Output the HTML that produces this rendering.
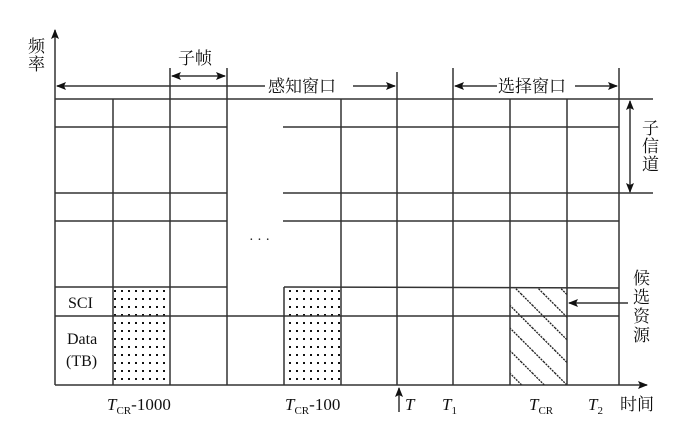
<!DOCTYPE html>
<html><head><meta charset="utf-8"><style>
html,body{margin:0;padding:0;background:#fff;}
svg{display:block;}
text{font-family:"Liberation Serif","Noto Serif CJK SC",serif;fill:#111;}
.cn{font-family:"Liberation Serif","Noto Serif CJK SC",serif;font-size:17px;}
</style></head><body>
<svg width="692" height="443" viewBox="0 0 692 443" xmlns="http://www.w3.org/2000/svg">
<defs>
<pattern id="dots" width="7" height="8" patternUnits="userSpaceOnUse">
<rect x="2" y="2" width="2" height="2" fill="#111"/>
</pattern>
<pattern id="hatch" width="16" height="16" patternUnits="userSpaceOnUse" patternTransform="rotate(-45)">
<line x1="0" y1="0" x2="0" y2="16" stroke="#111" stroke-width="2.5" stroke-dasharray="2 1"/>
</pattern>
<marker id="ah" markerWidth="10" markerHeight="8" refX="9" refY="4" orient="auto" markerUnits="userSpaceOnUse">
<path d="M0,0 L10,4 L0,8 L2,4 Z" fill="#111"/>
</marker>
</defs>
<rect x="113" y="287" width="57" height="98" fill="url(#dots)"/>
<rect x="284" y="287" width="57" height="98" fill="url(#dots)"/>
<rect x="510" y="288" width="57" height="97" fill="url(#hatch)"/>
<g stroke="#333" stroke-width="1.5" fill="none">
<line x1="55" y1="385" x2="55" y2="30" marker-end="url(#ah)"/>
<line x1="55" y1="385" x2="647" y2="385" marker-end="url(#ah)"/>
<line x1="55" y1="99" x2="653" y2="99"/>
<line x1="55" y1="127" x2="227" y2="127"/><line x1="283" y1="127" x2="619" y2="127"/>
<line x1="55" y1="193" x2="227" y2="193"/><line x1="283" y1="193" x2="653" y2="193"/>
<line x1="55" y1="221" x2="227" y2="221"/><line x1="283" y1="221" x2="619" y2="221"/>
<line x1="55" y1="287" x2="227" y2="287"/><line x1="284" y1="287" x2="619" y2="288"/>
<line x1="55" y1="316" x2="619" y2="316"/>
<line x1="113" y1="99" x2="113" y2="385"/>
<line x1="170" y1="68" x2="170" y2="385"/>
<line x1="227" y1="68" x2="227" y2="385"/>
<line x1="284" y1="287" x2="284" y2="385"/>
<line x1="341" y1="99" x2="341" y2="385"/>
<line x1="397" y1="72" x2="397" y2="385"/>
<line x1="453" y1="68" x2="453" y2="385"/>
<line x1="510" y1="99" x2="510" y2="385"/>
<line x1="567" y1="99" x2="567" y2="385"/>
<line x1="619" y1="68" x2="619" y2="385"/>
<line x1="265" y1="86" x2="57" y2="86" marker-end="url(#ah)"/>
<line x1="353" y1="86" x2="395" y2="86" marker-end="url(#ah)"/>
<line x1="497" y1="86" x2="455" y2="86" marker-end="url(#ah)"/>
<line x1="575" y1="86" x2="617" y2="86" marker-end="url(#ah)"/>
<line x1="198" y1="76" x2="172" y2="76" marker-end="url(#ah)"/>
<line x1="198" y1="76" x2="225" y2="76" marker-end="url(#ah)"/>
<line x1="630" y1="146" x2="630" y2="101" marker-end="url(#ah)"/>
<line x1="630" y1="146" x2="630" y2="192" marker-end="url(#ah)"/>
<line x1="628" y1="303" x2="569" y2="303" marker-end="url(#ah)"/>
<line x1="399" y1="412" x2="399" y2="388" marker-end="url(#ah)"/>
</g>
<text class="cn" x="28" y="52">频</text>
<text class="cn" x="28" y="70">率</text>
<text class="cn" x="178" y="64">子帧</text>
<text class="cn" x="268" y="92">感知窗口</text>
<text class="cn" x="498" y="92">选择窗口</text>
<text class="cn" x="642" y="134">子</text>
<text class="cn" x="642" y="152">信</text>
<text class="cn" x="642" y="170">道</text>
<text class="cn" x="633" y="284">候</text>
<text class="cn" x="633" y="303">选</text>
<text class="cn" x="633" y="322">资</text>
<text class="cn" x="633" y="341">源</text>
<text class="cn" x="620" y="410">时间</text>
<text x="249" y="244" font-size="14">· · ·</text>
<text x="68" y="308" font-size="16">SCI</text>
<text x="67" y="344" font-size="16">Data</text>
<text x="66" y="366" font-size="16">(TB)</text>
<g font-size="17">
<text x="107" y="410"><tspan font-style="italic">T</tspan><tspan font-size="11" dy="4">CR</tspan><tspan dy="-4">-1000</tspan></text>
<text x="285" y="410"><tspan font-style="italic">T</tspan><tspan font-size="11" dy="4">CR</tspan><tspan dy="-4">-100</tspan></text>
<text x="405" y="410" font-style="italic">T</text>
<text x="442" y="410"><tspan font-style="italic">T</tspan><tspan font-size="11" dy="4">1</tspan></text>
<text x="529" y="410"><tspan font-style="italic">T</tspan><tspan font-size="11" dy="4">CR</tspan></text>
<text x="588" y="410"><tspan font-style="italic">T</tspan><tspan font-size="11" dy="4">2</tspan></text>
</g>
</svg>
</body></html>
